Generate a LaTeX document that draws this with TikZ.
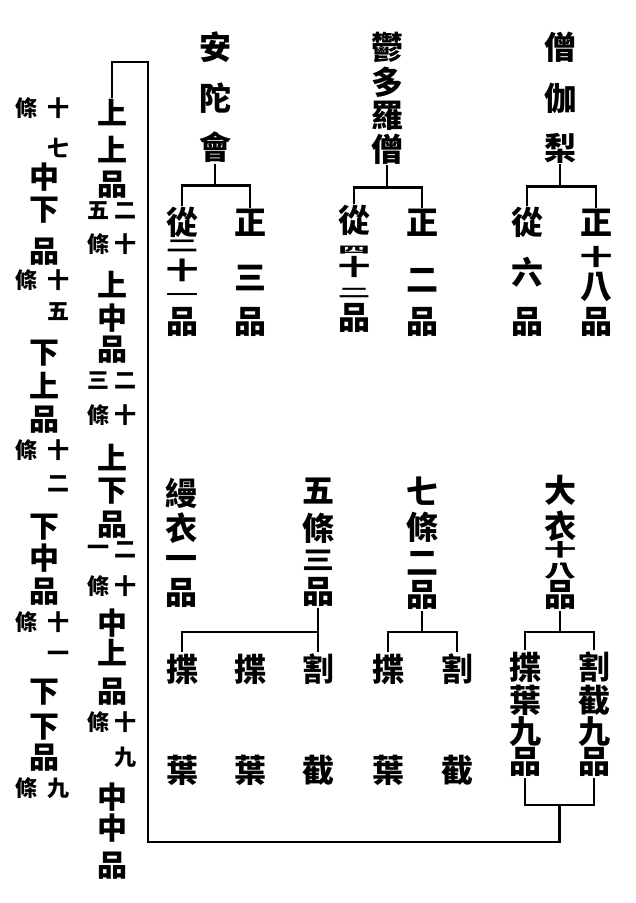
\documentclass[tikz,border=0pt]{standalone}
\usepackage{fontspec}
\usetikzlibrary{calc}
\newfontfamily\cjk{Noto Sans CJK TC}[BoldFont={* Black}]
\newcommand{\zh}[1]{\cjk\bfseries\fontsize{#1}{#1}\selectfont}
\newcommand{\sq}[2]{\scalebox{1}[#1]{#2}}
% one character per node, named name1, name2, ...
\newcommand{\vtext}[4]{\foreach \yy/\cc [count=\ii] in {#4}
        \node[zi, font=\zh{#3}] (#1\ii) at (#2,\yy) {\cc};}

\begin{document}
\begin{tikzpicture}[x=1pt, y=-1pt, line width=2.4pt, zi/.style={inner sep=0pt}]
        \useasboundingbox (0,0) rectangle (636,903);
        % the three robes
        \vtext{ant}{215}{32}{47/安,98/陀,147/會}
        \vtext{yu}{387}{32}{47/鬱,82/多,116/羅,149/僧}
        \vtext{sg}{560}{32}{47/僧,98/伽,148/梨}
        \vtext{antc}{182}{32}{222/從,246/\sq{0.5}{二},270/\sq{0.75}{十},296/\sq{0.4}{一},322/品}
        \vtext{antz}{250}{32}{223/正,278/三,322/品}
        \vtext{yuc}{354}{32}{220/從,250/\sq{0.3}{四},267/\sq{0.7}{十},293/\sq{0.4}{二},318/品}
        \vtext{yuz}{422}{32}{223/正,280/二,322/品}
        \vtext{sgc}{527}{32}{222/從,272/六,322/品}
        \vtext{sgz}{596}{32}{223/正,257/\sq{0.7}{十},287/八,322/品}
        \draw (ant3.south) -- ++(0,22) coordinate (antj);
        \draw (antc1.north) |- (antj) -| (antz1.north);
        \draw (yu4.south) -- ++(0,22) coordinate (yuj);
        \draw (yuc1.north) |- (yuj) -| (yuz1.north);
        \draw (sg3.south) -- ++(0,22) coordinate (sgj);
        \draw (sgc1.north) |- (sgj) -| (sgz1.north);
        % second row
        \vtext{man}{181}{32}{493/縵,528/衣,563/一,593/品}
        \vtext{wu}{318}{32}{491/五,528/條,560/\sq{0.8}{三},592/品}
        \vtext{qi}{422}{32}{491/七,527/條,563/二,595/品}
        \vtext{da}{560}{32}{490/大,526/衣,550/\sq{0.55}{十},571/\sq{0.55}{八},595/品}
        \vtext{wuA}{182}{32}{669/揲,770/葉}
        \vtext{wuB}{250}{32}{669/揲,770/葉}
        \vtext{wuC}{318}{32}{669/割,770/截}
        \vtext{qiA}{388}{32}{669/揲,770/葉}
        \vtext{qiB}{457}{32}{669/割,770/截}
        \vtext{daA}{525}{32}{667/揲,700/葉,732/九,762/品}
        \vtext{daB}{594}{32}{667/割,700/截,732/九,762/品}
        \draw (wu4.south) -- (wuC1.north);
        \path (wu4.south) ++(0,24) coordinate (wuj);
        \draw (wuj) -| (wuA1.north);
        \draw (qi4.south) -- ++(0,21) coordinate (qij);
        \draw (qiA1.north) |- (qij) -| (qiB1.north);
        \draw (da5.south) -- ++(0,21) coordinate (daj);
        \draw (daA1.north) |- (daj) -| (daB1.north);
        % the nine grades
        \vtext{ga}{112}{30}{113/上,150/上,185/品,285/上,318/中,350/品,458/上,491/下,525/品,623/中,653/上,692/品,797/中,828/中,866/品}
        \vtext{gar}{125}{22}{211/二,244/十,381/二,415/十,550/二,586/十,722/十,757/九}
        \vtext{gal}{98}{22}{211/五,244/條,381/三,415/條,550/一,586/條,722/條}
        \vtext{gb}{44}{30}{177/中,210/下,252/品,353/下,386/上,420/品,527/下,558/中,592/品,692/下,727/下,758/品}
        \vtext{gbr}{58}{22}{108/十,148/七,280/十,312/五,450/十,484/二,622/十,656/一,788/九}
        \vtext{gbl}{27}{22}{108/條,280/條,450/條,622/條,788/條}
        \draw (daA4.south) -- ++(0,27) coordinate (dal) -| (daB4.south);
        \coordinate (dam) at ($(dal)!0.5!(dal -| daB4.south)$);
        \coordinate (lp1) at (148,842);
        \coordinate (lp2) at (148,62);
        \draw (dam) |- (lp1) -- (lp2) -| (ga1.north);
\end{tikzpicture}
\end{document}
